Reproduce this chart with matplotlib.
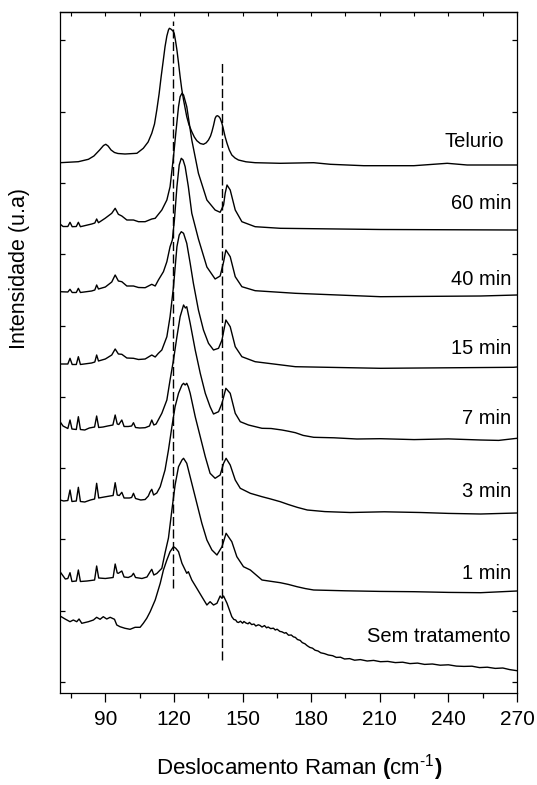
import matplotlib
matplotlib.use("Agg")
import matplotlib.pyplot as plt
from matplotlib.ticker import MultipleLocator
import numpy as np

plt.rcParams["font.family"] = ["Liberation Sans", "DejaVu Sans"]
plt.rcParams["mathtext.fontset"] = "custom"
plt.rcParams["mathtext.rm"] = "Liberation Sans"
plt.rcParams["mathtext.it"] = "Liberation Sans"
plt.rcParams["mathtext.bf"] = "Liberation Sans:bold"

# Raman spectra, stacked with vertical offsets (intensity in arbitrary units)
telurio_x = [70.2, 78.2, 82.6, 85.0, 87.5, 89.2, 90.2, 91.2, 92.5, 94.0, 95.5, 98.6, 103.8, 106.6,
             108.7, 110.3, 111.5, 112.5, 113.5, 114.4, 115.3, 116.1, 116.9, 117.6, 118.0, 118.6,
             119.1, 119.6, 120.1, 120.7, 121.3, 122.0, 122.7, 123.4, 124.2, 125.6, 126.6, 127.8,
             128.9, 130.0, 131.5, 132.9, 134.1, 135.1, 136.0, 136.6, 137.3, 138.0, 138.5, 139.0,
             139.6, 140.2, 141.0, 141.7, 142.4, 143.2, 144.2, 145.3, 146.7, 148.2, 151.5, 155.5,
             166.5, 181.1, 188.4, 203.0, 224.9, 239.5, 248.2, 270.0]
telurio_y = [519.3, 520.3, 522.7, 526.0, 532.0, 536.5, 537.7, 536.0, 532.0, 529.5, 528.5, 528.0,
             528.7, 533.7, 540.0, 548.7, 558.0, 572.0, 588.0, 605.3, 621.0, 635.3, 646.0, 652.0,
             653.7, 653.0, 652.0, 651.0, 648.7, 641.0, 632.0, 619.0, 605.3, 593.0, 582.0, 565.3,
             557.0, 550.3, 545.0, 541.3, 538.5, 537.7, 539.2, 542.0, 546.0, 550.3, 556.5, 563.7,
             565.8, 566.3, 565.5, 563.7, 558.5, 552.0, 545.0, 538.7, 532.0, 527.0, 524.0, 522.0,
             520.2, 519.3, 518.7, 519.3, 517.7, 516.3, 516.3, 518.7, 517.0, 517.0]

min60_x = [70.2, 71.5, 73.6, 74.55, 75.5, 77.3, 78.2, 79.1, 84.05, 85.4, 86.2, 87.0, 89.9, 92.8,
           94.3, 95.7, 97.2, 99.4, 102.3, 104.5, 107.4, 110.3, 111.8, 114.7, 116.9, 118.3, 119.8,
           120.8, 122.0, 122.7, 123.5, 124.2, 125.6, 127.8, 130.7, 134.4, 138.0, 140.2, 141.7,
           142.4, 143.2, 144.6, 146.8, 149.7, 155.5, 166.5, 210.3, 270.0]
min60_y = [458.0, 455.5, 455.5, 459.7, 455.3, 455.5, 459.7, 455.3, 458.0, 459.0, 463.0, 459.3, 463.7,
           468.7, 473.7, 467.7, 466.0, 462.0, 462.0, 460.3, 460.3, 463.0, 463.7, 472.0, 482.0, 495.3,
           525.3, 548.7, 575.3, 585.3, 588.7, 587.0, 575.3, 542.0, 508.7, 482.0, 472.0, 469.7, 477.0,
           488.7, 497.0, 492.0, 472.0, 460.3, 455.3, 453.7, 452.5, 452.0]

min40_x = [70.2, 73.6, 74.55, 75.5, 77.3, 78.2, 79.1, 84.0, 85.4, 86.2, 87.0, 90.0, 92.8, 94.3,
           95.7, 97.2, 99.4, 102.3, 104.5, 107.4, 110.3, 111.8, 113.2, 115.4, 116.9, 118.3, 119.3,
           120.2, 121.3, 122.3, 123.2, 124.0, 124.9, 126.3, 127.8, 130.7, 134.4, 138.0, 140.2,
           141.7, 142.7, 144.6, 146.8, 149.7, 155.5, 173.1, 210.3, 254.1, 270.0]
min40_y = [390.3, 390.0, 392.7, 389.5, 389.5, 393.7, 389.5, 391.0, 392.0, 397.0, 393.0, 395.0,
           400.0, 407.0, 401.0, 400.3, 396.0, 396.0, 394.5, 394.3, 397.7, 396.0, 402.0, 410.3,
           420.3, 435.3, 442.0, 462.0, 495.3, 517.0, 523.7, 522.0, 515.3, 495.3, 468.7, 443.0,
           415.0, 403.0, 406.0, 420.0, 432.0, 425.3, 405.3, 395.3, 391.3, 388.7, 385.3, 386.0, 387.0]

min15_x = [70.2, 73.6, 74.55, 75.5, 77.3, 78.2, 79.1, 84.0, 85.4, 86.2, 87.0, 90.0, 92.8, 94.3,
           95.7, 97.2, 99.4, 102.3, 104.5, 107.4, 110.3, 111.8, 113.2, 114.7, 116.9, 118.3, 119.8,
           120.8, 121.3, 122.3, 123.2, 124.2, 125.6, 127.1, 128.5, 130.7, 132.9, 135.1, 137.3,
           139.5, 141.0, 142.7, 144.6, 146.8, 149.7, 155.5, 173.1, 210.3, 268.5, 270.0]
min15_y = [318.0, 318.0, 323.7, 317.5, 317.5, 325.3, 317.5, 319.0, 320.0, 327.0, 321.0, 323.0,
           327.0, 333.0, 328.0, 327.7, 324.0, 323.7, 322.5, 323.0, 327.0, 325.0, 328.7, 332.0,
           345.3, 365.3, 395.3, 422.0, 435.3, 447.0, 450.3, 448.7, 438.7, 418.7, 398.7, 372.0,
           352.0, 338.7, 332.0, 333.7, 342.0, 362.0, 355.3, 335.3, 325.3, 320.3, 315.3, 313.7,
           314.7, 315.0]

min7_x = [70.2, 71.5, 73.6, 74.55, 75.4, 77.3, 78.2, 79.1, 81.0, 83.0, 85.3, 86.2, 87.1, 89.0,
          91.0, 93.3, 94.3, 95.2, 95.9, 97.2, 98.2, 100.0, 101.5, 102.3, 103.2, 105.0, 107.4,
          109.3, 110.3, 111.2, 112.2, 114.7, 116.9, 118.3, 119.8, 121.3, 122.7, 124.2, 125.0,
          125.6, 127.1, 129.3, 131.5, 133.7, 135.8, 137.3, 139.5, 141.0, 142.7, 144.6, 146.8,
          149.0, 152.6, 155.8, 158.5, 162.5, 167.2, 170.0, 173.1, 176.5, 181.1, 190.0, 200.0,
          210.3, 225.0, 240.0, 254.1, 262.0, 270.0]
min7_y = [260.3, 256.0, 253.5, 262.0, 253.0, 252.5, 265.3, 252.5, 252.0, 254.0, 255.0, 266.0,
          254.5, 255.0, 256.0, 257.0, 267.0, 258.0, 257.5, 262.0, 255.5, 255.5, 256.0, 259.3,
          254.5, 254.0, 254.3, 256.0, 262.0, 257.0, 258.0, 268.7, 282.0, 302.0, 322.0, 345.3,
          365.3, 377.0, 374.0, 375.3, 358.7, 332.0, 308.7, 288.7, 275.3, 268.0, 270.3, 278.7,
          293.7, 288.7, 268.7, 260.3, 257.0, 255.2, 253.7, 253.5, 252.0, 250.8, 249.3, 246.6,
          244.7, 244.2, 243.0, 243.3, 242.4, 243.1, 242.0, 241.6, 243.7]

min3_x = [70.2, 71.8, 73.6, 74.55, 75.4, 77.3, 78.2, 79.1, 81.0, 83.5, 85.3, 86.2, 87.1, 89.5,
          92.0, 93.4, 94.3, 95.2, 96.1, 97.2, 98.2, 100.5, 101.5, 102.3, 103.2, 105.5, 107.4,
          108.8, 109.6, 110.3, 111.1, 112.5, 114.0, 116.1, 117.6, 119.1, 120.5, 122.0, 123.5,
          124.2, 124.9, 125.6, 126.3, 127.1, 129.3, 131.5, 133.7, 135.8, 138.0, 140.2, 141.7,
          142.8, 144.6, 146.8, 149.0, 153.4, 158.5, 162.0, 166.5, 170.0, 174.0, 178.3, 186.0,
          197.1, 212.0, 227.8, 240.0, 254.1, 270.0]
min3_y = [182.0, 181.0, 181.5, 192.0, 180.5, 181.0, 194.7, 180.5, 180.0, 182.0, 183.0, 198.7,
          184.0, 185.0, 186.0, 186.5, 199.3, 187.0, 186.5, 189.7, 184.0, 184.0, 184.5, 188.7,
          183.5, 182.0, 182.5, 186.0, 190.3, 192.7, 187.0, 189.0, 195.3, 212.0, 232.0, 255.3,
          275.3, 288.7, 297.0, 298.7, 297.0, 298.7, 295.0, 288.7, 265.3, 245.3, 225.3, 208.7,
          203.7, 207.0, 218.7, 223.7, 217.0, 202.0, 193.7, 188.7, 185.3, 183.2, 180.3, 177.5,
          174.6, 172.0, 170.4, 169.5, 170.2, 169.5, 168.6, 168.0, 169.0]

min1_x = [70.2, 72.5, 73.6, 74.55, 75.4, 77.3, 78.2, 79.1, 82.0, 85.3, 86.2, 87.1, 90.0, 93.4,
          94.3, 95.2, 95.7, 97.2, 98.2, 100.0, 101.5, 102.3, 103.2, 106.0, 108.2, 109.6, 110.3,
          111.2, 112.5, 114.7, 116.1, 117.6, 119.1, 120.5, 122.0, 123.5, 124.2, 125.6, 127.8,
          130.0, 132.2, 134.4, 136.6, 138.8, 141.0, 142.8, 145.3, 147.5, 150.4, 153.4, 158.5,
          162.0, 166.5, 170.0, 173.8, 177.5, 181.1, 195.0, 210.0, 224.9, 240.0, 254.1, 270.0]
min1_y = [110.3, 103.0, 103.5, 109.3, 100.5, 101.0, 112.0, 100.5, 101.0, 102.0, 116.0, 104.0,
          103.5, 104.5, 118.0, 109.0, 108.7, 111.0, 105.0, 104.5, 106.0, 108.7, 104.5, 103.5,
          105.0, 110.3, 112.7, 107.0, 108.5, 113.7, 129.0, 144.0, 172.0, 197.0, 215.3, 222.0,
          223.7, 218.7, 198.7, 178.7, 158.7, 142.0, 132.0, 127.0, 135.3, 148.7, 140.3, 125.3,
          115.3, 112.0, 102.0, 100.8, 99.3, 97.6, 95.3, 93.4, 92.0, 91.2, 90.6, 90.3, 89.6,
          89.3, 91.0]

sem_x = [70.2, 72.4, 74.55, 76.0, 77.5, 78.5, 79.7, 82.6, 84.8, 86.2, 87.7, 89.1, 90.6, 92.1,
         94.0, 95.0, 96.4, 98.6, 100.8, 103.0, 105.2, 106.6, 108.1, 109.6, 111.8, 114.0, 115.4,
         116.9, 118.3, 119.8, 120.8, 122.0, 123.5, 125.6, 126.3, 127.8, 130.0, 132.2, 134.4,
         135.8, 137.3, 138.8, 140.2, 141.0, 141.7, 143.2, 145.3, 146.2, 147.0, 147.6, 148.2,
         149.1, 150.0, 150.6, 151.5, 152.4, 153.0, 154.0, 155.0, 155.8, 156.9, 157.6, 158.5,
         159.6, 160.5, 161.2, 162.3, 163.5, 164.3, 165.1, 166.3, 167.2, 168.4, 169.0, 170.1,
         171.3, 172.2, 173.1, 174.0, 175.2, 176.1, 177.3, 178.2, 179.4, 180.6, 181.7, 183.0,
         184.2, 185.8, 187.5, 189.4, 191.0, 192.8, 194.6, 196.8, 199.0, 201.5, 204.5, 207.3,
         210.3, 213.5, 216.8, 220.0, 223.2, 226.5, 229.6, 233.0, 236.4, 240.0, 243.5, 246.8,
         250.3, 253.6, 257.0, 260.5, 263.8, 266.8, 270.0]
sem_y = [66.0, 63.0, 60.3, 62.0, 60.3, 63.0, 58.7, 60.3, 62.0, 64.7, 62.7, 65.3, 63.0, 64.7,
         62.7, 57.0, 55.3, 53.7, 52.7, 54.7, 54.7, 58.7, 63.7, 70.3, 82.0, 98.7, 112.0,
         122.0, 130.3, 135.3, 133.7, 130.3, 118.7, 108.7, 110.3, 102.0, 93.7, 85.3, 77.0,
         80.3, 77.0, 78.7, 86.0, 83.7, 86.0, 78.7, 65.3, 62.5, 62.0, 60.0, 59.5,
         60.8, 58.8, 60.5, 59.0, 58.2, 59.6, 57.4, 58.0, 56.0, 57.2, 56.6, 55.0,
         56.4, 54.2, 55.0, 53.4, 53.8, 52.0, 52.8, 50.6, 50.2, 48.8, 49.4, 46.8,
         47.0, 45.2, 44.6, 42.5, 41.6, 39.4, 38.2, 36.4, 34.6, 33.8, 31.8, 31.0,
         29.2, 28.4, 27.0, 26.3, 24.6, 24.8, 23.0, 23.4, 21.8, 22.4, 21.0, 21.6,
         20.3, 20.6, 19.4, 19.8, 18.4, 18.9, 17.6, 18.0, 16.8, 17.2, 15.9, 15.6,
         15.8, 14.4, 14.8, 13.6, 14.0, 12.4, 11.3]

sample_labels = ["Telurio", "60 min", "40 min", "15 min", "7 min", "3 min", "1 min", "Sem tratamento"]
label_y = [540.3, 478.7, 402.7, 333.7, 263.7, 190.3, 108.7, 45.3]
label_x = [264.2, 267.6, 267.6, 267.6, 267.6, 267.3, 267.3, 267.3]

# reference band positions (cm-1) and vertical extent of the guide lines
band_x = [119.5, 141.2]
band_y0 = [93.7, 22.0]
band_y1 = [661.3, 620.3]

spectra = [(telurio_x, telurio_y), (min60_x, min60_y), (min40_x, min40_y), (min15_x, min15_y),
           (min7_x, min7_y), (min3_x, min3_y), (min1_x, min1_y), (sem_x, sem_y)]

W, H = 537, 785
fig = plt.figure(figsize=(W / 100, H / 100), dpi=100)
ax = fig.add_axes([59.6 / W, 1 - 693 / H, (517 - 59.6) / W, (693 - 12) / H])

for xs, ys in spectra:
    ax.plot(xs, ys, color="black", lw=1.0, solid_joinstyle="round")

for bx, y0, y1 in zip(band_x, band_y0, band_y1):
    ax.plot([bx, bx], [y0, y1], color="black", lw=1.0, linestyle=(0, (6.5, 2.5)))

for txt, tx, ty in zip(sample_labels, label_x, label_y):
    ax.text(tx, ty, txt, ha="right", va="center", fontsize=14.5)

ax.set_xlim(70, 270)
ax.set_ylim(-11, 670)
ax.set_xticks(np.arange(90, 271, 30))
ax.xaxis.set_minor_locator(MultipleLocator(15))
ax.tick_params(axis="x", which="major", direction="out", length=6.5, width=0.9,
               labelsize=15, pad=6, top=False)
ax.tick_params(axis="x", which="minor", direction="out", length=3.5, width=0.9, top=False)

top = ax.secondary_xaxis("top")
top.set_xticks(np.arange(75, 271, 15))
top.tick_params(direction="in", length=3, width=0.8, labeltop=False)

ax.set_yticks(np.arange(0, 650, 71.3))
ax.tick_params(axis="y", direction="in", length=3.5, width=0.9, left=True, right=True,
               labelleft=False)

for sp in ax.spines.values():
    sp.set_linewidth(0.9)
top.spines["top"].set_linewidth(0.9)

fig.text(299 / W, 1 - 768 / H, r"Deslocamento Raman $\mathbf{(}$cm$^{\text{-}1}$$\mathbf{)}$",
         ha="center", va="center", fontsize=16)
fig.text(19.5 / W, 1 - 269 / H, "Intensidade (u.a)", rotation=90,
         ha="center", va="center", fontsize=15.5)

fig.savefig("out.png", dpi=100)
